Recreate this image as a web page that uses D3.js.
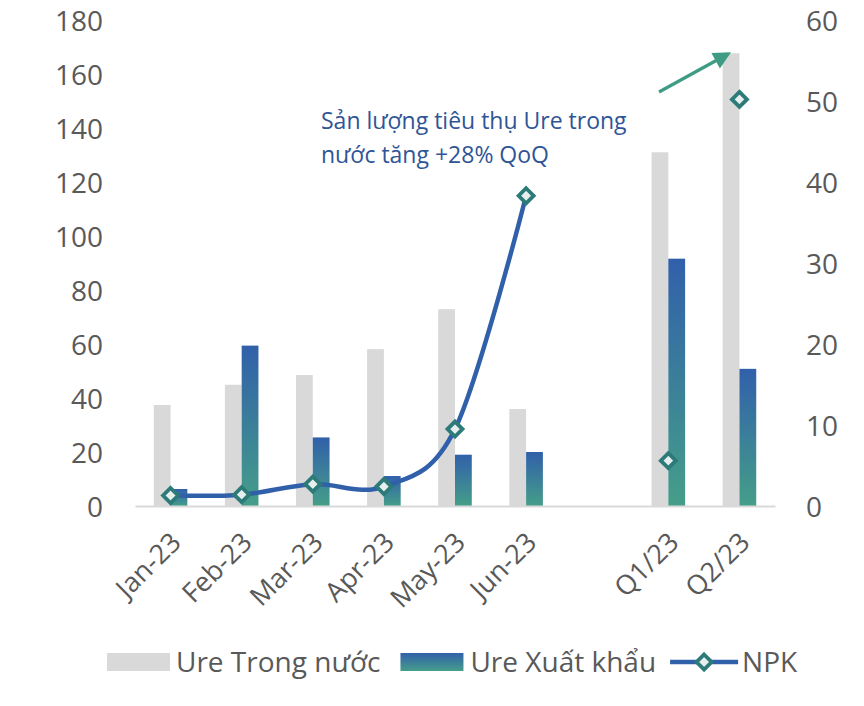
<!DOCTYPE html>
<html>
<head>
<meta charset="utf-8">
<script src="https://cdn.jsdelivr.net/npm/d3@7/dist/d3.min.js"></script>
<style>
  html, body { margin: 0; padding: 0; background: #fff; }
  svg { display: block; }
  text { font-family: "Open Sans", "Noto Sans", sans-serif; }
</style>
</head>
<body>
<svg id="chart" width="864" height="706"></svg>
<script>
// ---- data ----
const categories = ["Jan-23", "Feb-23", "Mar-23", "Apr-23", "May-23", "Jun-23", "", "Q1/23", "Q2/23"];
const ureDomestic = [37.4, 44.9, 48.5, 58.1, 72.9, 35.9, null, 131, 167.7];
const ureExport   = [6.3, 59.4, 25.4, 11.1, 19.0, 20.0, null, 91.6, 50.8];
const npk         = [1.3, 1.4, 2.7, 2.4, 9.5, 38.3, null, 5.6, 50.2];
const leftTicks  = [0, 20, 40, 60, 80, 100, 120, 140, 160, 180];
const rightTicks = [0, 10, 20, 30, 40, 50, 60];
const seriesNames = ["Ure Trong nước", "Ure Xuất khẩu", "NPK"];
const annotationLines = ["Sản lượng tiêu thụ Ure trong", "nước tăng +28% QoQ"];

// ---- layout ----
const svg = d3.select("#chart");
const plot = { left: 135, right: 775, top: 20, bottom: 506 };
const keys = categories.map((c, i) => i);

const x = d3.scaleBand().domain(keys).range([plot.left, plot.right]).paddingInner(0).paddingOuter(0);
const yL = d3.scaleLinear().domain([0, 180]).range([plot.bottom, plot.top]);
const yR = d3.scaleLinear().domain([0, 60]).range([plot.bottom, plot.top]);
const barW = x.bandwidth() * 0.236;

const axisColor = "#595959";
const fontSize = 28;

// gradient
const defs = svg.append("defs");
const grad = defs.append("linearGradient").attr("id", "blueGrad")
  .attr("x1", 0).attr("y1", 0).attr("x2", 0).attr("y2", 1);
grad.append("stop").attr("offset", "0%").attr("stop-color", "#3160aa");
grad.append("stop").attr("offset", "100%").attr("stop-color", "#459e89");
const gradL = defs.append("linearGradient").attr("id", "blueGradLegend")
  .attr("x1", 0).attr("y1", 0).attr("x2", 0).attr("y2", 1);
gradL.append("stop").attr("offset", "0%").attr("stop-color", "#3160aa");
gradL.append("stop").attr("offset", "100%").attr("stop-color", "#459e89");
defs.append("marker").attr("id", "arrowHead")
  .attr("viewBox", "0 0 10 10").attr("refX", 8).attr("refY", 5)
  .attr("markerWidth", 6.5).attr("markerHeight", 5.5).attr("orient", "auto")
  .attr("markerUnits", "strokeWidth")
  .append("path").attr("d", "M0,0 L10,5 L0,10 Z").attr("fill", "#3f9c84");

// left axis
const axL = d3.axisLeft(yL).tickValues(leftTicks).tickSize(0).tickPadding(0);
const gL = svg.append("g").attr("transform", `translate(103,0)`).call(axL);
gL.select(".domain").remove();
gL.selectAll("text").attr("fill", axisColor).attr("font-size", fontSize).attr("dy", "0.36em")
  .style("font-family", '"Open Sans", sans-serif');

// right axis
const axR = d3.axisRight(yR).tickValues(rightTicks).tickSize(0).tickPadding(0);
const gR = svg.append("g").attr("transform", `translate(806,0)`).call(axR);
gR.select(".domain").remove();
gR.selectAll("text").attr("fill", axisColor).attr("font-size", fontSize).attr("dy", "0.36em")
  .style("font-family", '"Open Sans", sans-serif');

// bars
svg.append("g").selectAll("rect").data(keys.filter(i => ureDomestic[i] != null)).join("rect")
  .attr("x", i => x(i) + x.bandwidth() / 2 - barW)
  .attr("width", barW)
  .attr("y", i => yL(ureDomestic[i]))
  .attr("height", i => yL(0) - yL(ureDomestic[i]))
  .attr("fill", "#d9d9d9");

svg.append("g").selectAll("rect").data(keys.filter(i => ureExport[i] != null)).join("rect")
  .attr("x", i => x(i) + x.bandwidth() / 2)
  .attr("width", barW)
  .attr("y", i => yL(ureExport[i]))
  .attr("height", i => yL(0) - yL(ureExport[i]))
  .attr("fill", "url(#blueGrad)");

// x axis line
const axB = d3.axisBottom(x).tickSize(0).tickFormat(() => "");
const gB = svg.append("g").attr("transform", `translate(0,${plot.bottom})`).call(axB);
gB.select(".domain").attr("stroke", "#d9d9d9").attr("stroke-width", 2);

// x labels (rotated)
svg.append("g").selectAll("text").data(keys.filter(i => categories[i] !== "")).join("text")
  .attr("transform", i => `translate(${x(i) + x.bandwidth() / 2 + 12},${plot.bottom + 38}) rotate(-45)`)
  .attr("text-anchor", "end")
  .attr("fill", axisColor)
  .attr("font-size", 27)
  .text(i => categories[i]);

// NPK line
const cx = i => x(i) + x.bandwidth() / 2;
const line = d3.line().defined(i => npk[i] != null)
  .x(i => cx(i)).y(i => yR(npk[i]))
  .curve(d3.curveCardinal.tension(0));
svg.append("path").datum(keys.slice(0, 6))
  .attr("d", line).attr("fill", "none").attr("stroke", "#3160aa").attr("stroke-width", 4.5);

const diamond = (g, px, py) => {
  const s = 7.5;
  g.append("path")
    .attr("d", `M${px},${py - s} L${px + s},${py} L${px},${py + s} L${px - s},${py} Z`)
    .attr("fill", "#e6efee").attr("stroke", "#2d7b79").attr("stroke-width", 3.8);
};
const mg = svg.append("g");
keys.filter(i => npk[i] != null).forEach(i => diamond(mg, cx(i), yR(npk[i])));

// annotation
const ann = svg.append("text").attr("x", 321).attr("y", 129)
  .attr("fill", "#2f5597").attr("font-size", 23);
annotationLines.forEach((t, k) => ann.append("tspan").attr("x", 321).attr("y", 129 + k * 34).text(t));

// arrow
svg.append("line").attr("x1", 659).attr("y1", 92).attr("x2", 728).attr("y2", 54)
  .attr("stroke", "#3f9c84").attr("stroke-width", 3.2).attr("marker-end", "url(#arrowHead)");

// legend
const lg = svg.append("g");
let lx = 107;
const ly = 662;
// item 1
lg.append("rect").attr("x", lx).attr("y", ly - 9).attr("width", 63).attr("height", 18).attr("fill", "#d9d9d9");
lx += 69;
let t1 = lg.append("text").attr("x", lx).attr("y", ly + 10).attr("fill", axisColor).attr("font-size", fontSize).text(seriesNames[0]);
lx += t1.node().getComputedTextLength() + 20;
// item 2
lg.append("rect").attr("x", lx).attr("y", ly - 9).attr("width", 63).attr("height", 18).attr("fill", "url(#blueGradLegend)");
lx += 70;
let t2 = lg.append("text").attr("x", lx).attr("y", ly + 10).attr("fill", axisColor).attr("font-size", fontSize).text(seriesNames[1]);
lx += t2.node().getComputedTextLength() + 14;
// item 3
lg.append("line").attr("x1", lx).attr("x2", lx + 68).attr("y1", ly).attr("y2", ly)
  .attr("stroke", "#3160aa").attr("stroke-width", 4.5);
diamond(lg, lx + 34, ly);
lx += 72;
lg.append("text").attr("x", lx).attr("y", ly + 10).attr("fill", axisColor).attr("font-size", fontSize).text(seriesNames[2]);
</script>
</body>
</html>
